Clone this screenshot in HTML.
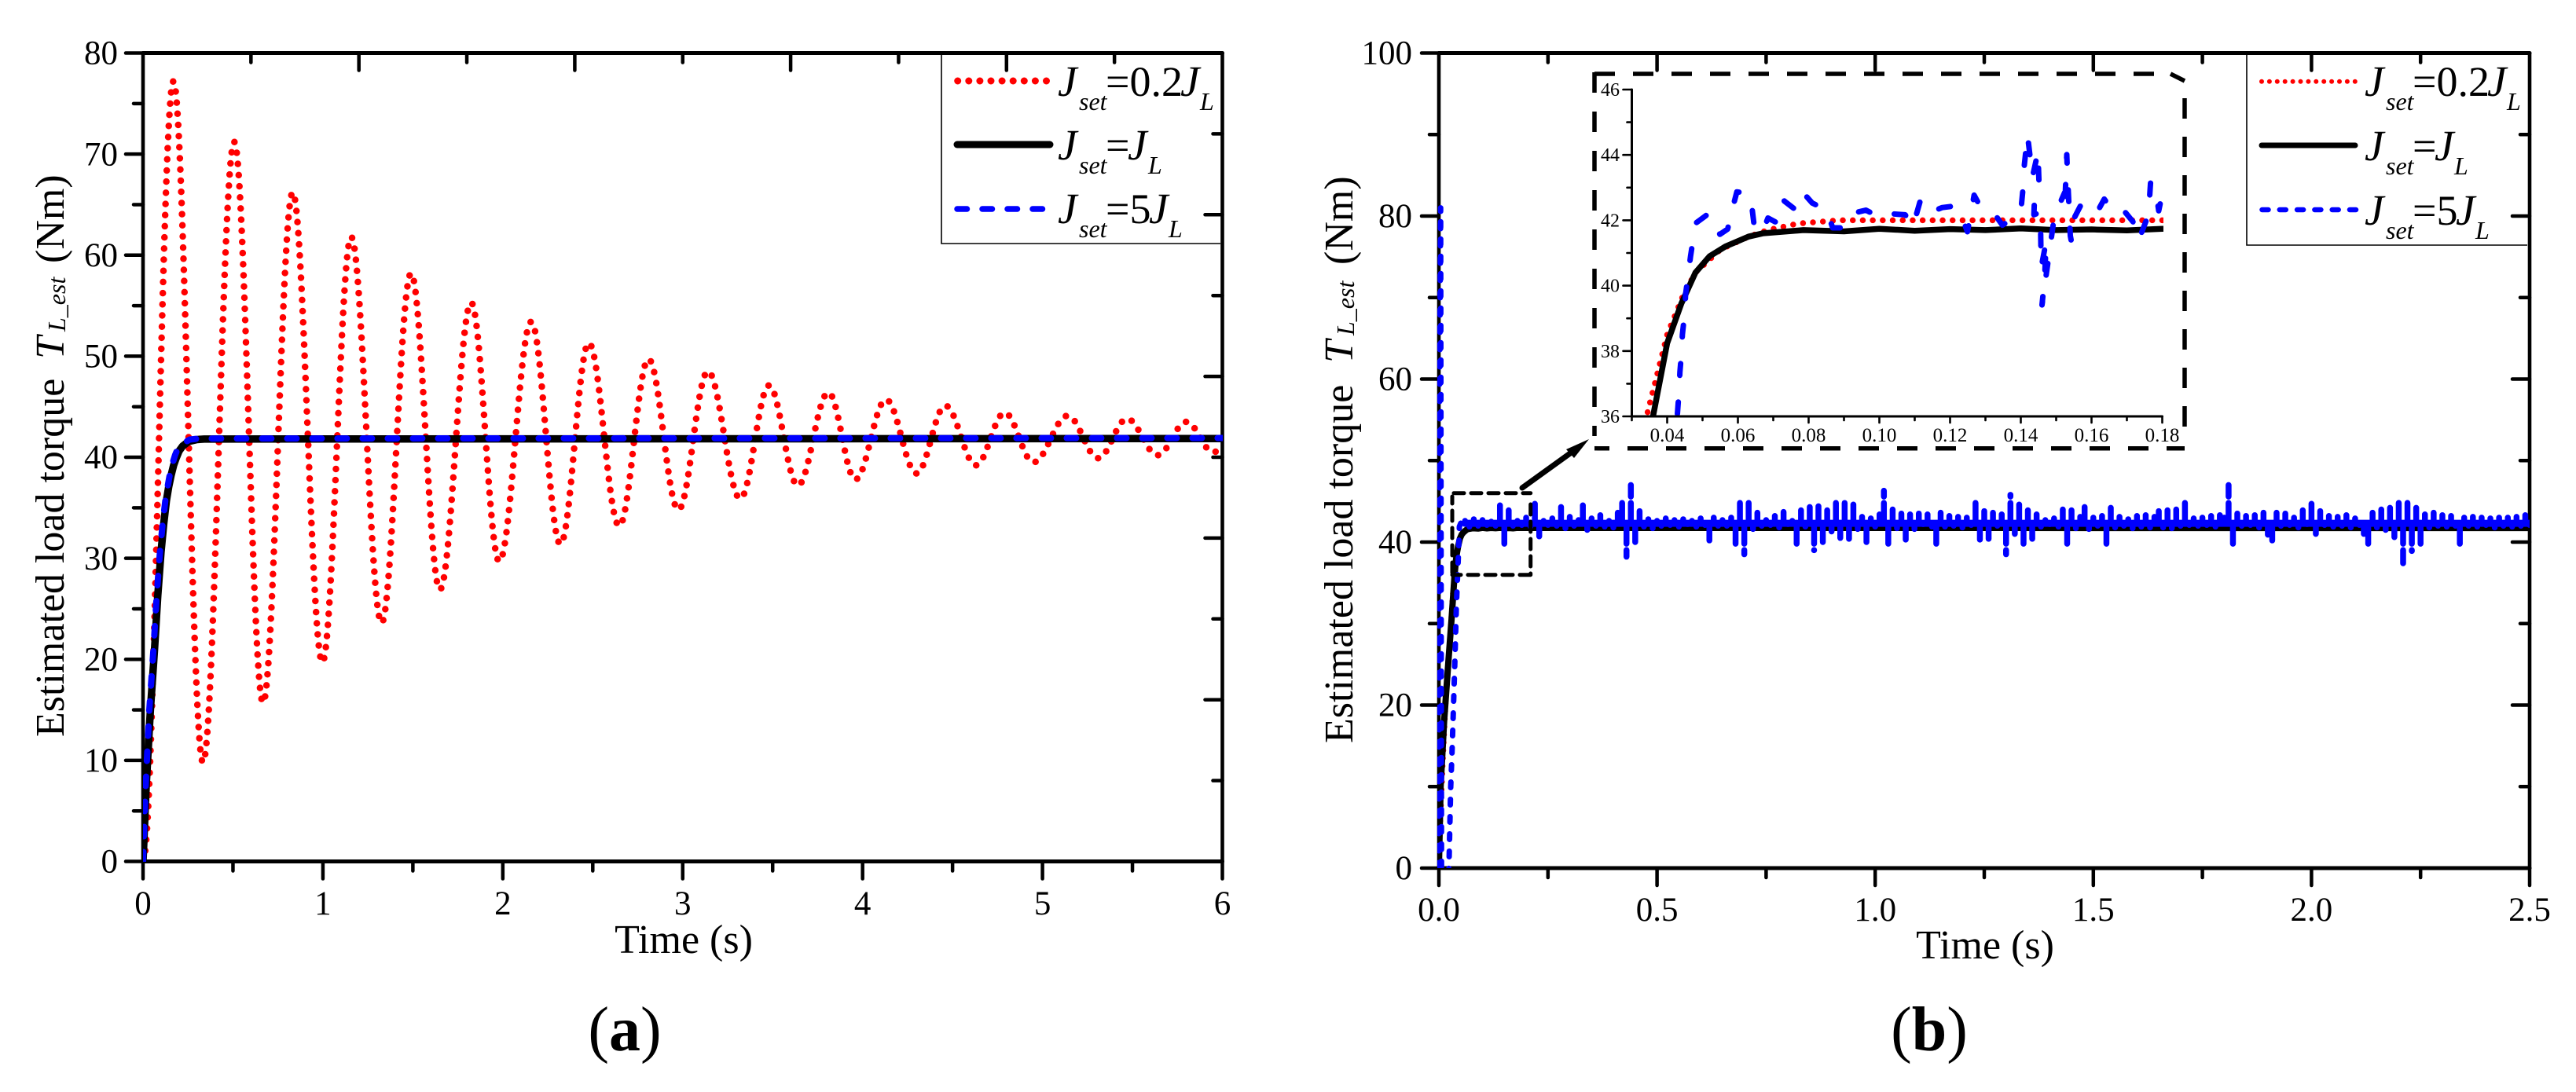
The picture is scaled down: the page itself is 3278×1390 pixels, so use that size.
<!DOCTYPE html>
<html lang="en">
<head>
<meta charset="utf-8">
<title>Estimated load torque</title>
<style>
html,body{margin:0;padding:0;background:#fff;width:3278px;height:1390px;overflow:hidden}
svg{position:absolute;left:0;top:0;display:block;overflow:hidden}
text{font-family:"Liberation Serif","Times New Roman",serif;fill:#000}
</style>
</head>
<body>
<svg id="fig" xmlns="http://www.w3.org/2000/svg" width="3278" height="1390" viewBox="0 0 3278 1390">
<defs>
<clipPath id="clipA"><rect x="182" y="67" width="1374" height="1030"/></clipPath>
<clipPath id="clipB"><rect x="1829" y="67" width="1390" height="1038"/></clipPath>
<clipPath id="clipI"><rect x="2077" y="114" width="676" height="416"/></clipPath>
</defs>

<g id="plotA"></g>
<g id="plotB"></g>
<g id="plotI"></g>

<g>
<text transform="translate(81,938) rotate(-90)" font-size="52">Estimated load torque</text>
<text transform="translate(81,457) rotate(-90)" font-size="52" font-style="italic">T</text>
<text transform="translate(83,422) rotate(-90)" font-size="32" font-style="italic">L_est</text>
<text transform="translate(81,335) rotate(-90)" font-size="52">(Nm)</text>
</g>
<g>
<text transform="translate(1721,946) rotate(-90)" font-size="52">Estimated load torque</text>
<text transform="translate(1721,462) rotate(-90)" font-size="52" font-style="italic">T</text>
<text transform="translate(1723,427) rotate(-90)" font-size="32" font-style="italic">L_est</text>
<text transform="translate(1721,337) rotate(-90)" font-size="52">(Nm)</text>
</g>
<text x="870" y="1213" font-size="52" text-anchor="middle">Time (s)</text>
<text x="2526" y="1220" font-size="52" text-anchor="middle">Time (s)</text>
<text x="795" y="1337" font-size="80" text-anchor="middle">(<tspan font-weight="bold">a</tspan>)</text>
<text x="2455" y="1337" font-size="80" text-anchor="middle">(<tspan font-weight="bold">b</tspan>)</text>

<g>
<path d="M1198 70V310H1553" fill="none" stroke="#000" stroke-width="1.6"/>
<g>
<path d="M1218.7 103H1331.5" stroke="#ff0000" stroke-width="9" stroke-linecap="round" stroke-dasharray="0 14.1" fill="none"/>
<text x="1346" y="122" font-size="55" font-style="italic">J</text>
<text x="1373" y="140" font-size="32" font-style="italic">set</text>
<text x="1407" y="122" font-size="54">=0.2</text>
<text x="1502" y="122" font-size="55" font-style="italic">J</text>
<text x="1527" y="140" font-size="32" font-style="italic">L</text>
</g>
<g>
<path d="M1218 184H1336" stroke="#000" stroke-width="9" stroke-linecap="round" fill="none"/>
<text x="1346" y="203" font-size="55" font-style="italic">J</text>
<text x="1373" y="221" font-size="32" font-style="italic">set</text>
<text x="1407" y="203" font-size="54">=</text>
<text x="1435" y="203" font-size="55" font-style="italic">J</text>
<text x="1461" y="221" font-size="32" font-style="italic">L</text>
</g>
<g>
<path d="M1218 266H1327" stroke="#0000ff" stroke-width="7.5" stroke-linecap="round" stroke-dasharray="12.5 19.5" fill="none"/>
<text x="1346" y="284" font-size="55" font-style="italic">J</text>
<text x="1373" y="302" font-size="32" font-style="italic">set</text>
<text x="1407" y="284" font-size="54">=5</text>
<text x="1462" y="284" font-size="55" font-style="italic">J</text>
<text x="1487" y="302" font-size="32" font-style="italic">L</text>
</g>
</g>

<g>
<path d="M2859 70V312H3216" fill="none" stroke="#000" stroke-width="1.6"/>
<g>
<path d="M2878 103.7H2997" stroke="#ff0000" stroke-width="6" stroke-linecap="round" stroke-dasharray="0 9.9" fill="none"/>
<text x="3009" y="122" font-size="55" font-style="italic">J</text>
<text x="3036" y="140" font-size="32" font-style="italic">set</text>
<text x="3070" y="122" font-size="54">=0.2</text>
<text x="3165" y="122" font-size="55" font-style="italic">J</text>
<text x="3190" y="140" font-size="32" font-style="italic">L</text>
</g>
<g>
<path d="M2878 185H2997" stroke="#000" stroke-width="7" stroke-linecap="round" fill="none"/>
<text x="3009" y="204" font-size="55" font-style="italic">J</text>
<text x="3036" y="222" font-size="32" font-style="italic">set</text>
<text x="3070" y="204" font-size="54">=</text>
<text x="3098" y="204" font-size="55" font-style="italic">J</text>
<text x="3123" y="222" font-size="32" font-style="italic">L</text>
</g>
<g>
<path d="M2878.5 267H2998" stroke="#0000ff" stroke-width="6.5" stroke-linecap="round" stroke-dasharray="8 14.3" fill="none"/>
<text x="3009" y="286" font-size="55" font-style="italic">J</text>
<text x="3036" y="304" font-size="32" font-style="italic">set</text>
<text x="3070" y="286" font-size="54">=5</text>
<text x="3125" y="286" font-size="55" font-style="italic">J</text>
<text x="3150" y="304" font-size="32" font-style="italic">L</text>
</g>
</g>

<g>
<g fill="none" stroke="#000" stroke-width="5" stroke-linecap="round">
<path d="M1850 627.7H1947.7" stroke-dasharray="13 9"/>
<path d="M1947.7 642V731.7" stroke-dasharray="13 9"/>
<path d="M1947 731.7H1848" stroke-dasharray="13 9"/>
<path d="M1848 729V632" stroke-dasharray="13 9"/>
</g>
<path d="M1937 621L2005 572" fill="none" stroke="#000" stroke-width="7" stroke-linecap="round"/>
<polygon points="2022,559 1993,572 2003,583" fill="#000"/>
<g fill="none" stroke="#000" stroke-width="5.5">
<path d="M2029 94H2762" stroke-dasharray="26 23"/>
<path d="M2762 94L2780 103"/>
<path d="M2780 125V550" stroke-dasharray="26 23"/>
<path d="M2780 570.7H2029" stroke-dasharray="26 23" stroke-dashoffset="3"/>
<path d="M2029 92V555" stroke-dasharray="26 24"/>
</g>
</g>
</svg>

<script>
/* ---------- panel (a) data ---------- */
const aRedTime = [0,0.169,0.333,0.507,0.667,0.832,0.997,1.157,1.326,1.49,1.65,1.824,1.98,2.158,2.32,2.478,2.647,2.81,2.976,3.14,3.32,3.48,3.64,3.81,3.96,4.13,4.30,4.46,4.63,4.79,4.95,5.14,5.31,5.47,5.64,5.80,5.95,6];
const aRedTorque = [0,77.2,9.8,71.2,15.7,66.2,19.7,61.8,23.6,58.2,26.9,55.3,29.7,53.4,31.4,51.3,33.2,49.7,34.8,48.5,35.9,47.1,37.2,46.4,37.8,45.7,38.4,45.1,39.2,44.4,39.5,44.1,39.9,43.8,40.2,43.5,40.5,40.8];
const aBlackTime = [0,0.018,0.041,0.064,0.082,0.1,0.115,0.13,0.143,0.156,0.17,0.184,0.2,0.22,0.253,0.3,0.34,6];
const aBlackTorque = [0,7.6,15,21,26.3,30.6,33.4,35.7,37.1,38.2,39.2,39.9,40.6,41.1,41.55,41.75,41.8,41.85];
const aBlueTime = [0,0.015,0.035,0.058,0.076,0.094,0.109,0.124,0.137,0.148,0.164,0.178,0.194,0.215,0.26,0.31,6];
const aBlueTorque = [0,7.6,15,21,26.3,30.6,33.4,35.7,37.1,38.2,39.4,40.2,40.9,41.3,41.75,41.85,41.9];
const aYLabels = ['0','10','20','30','40','50','60','70','80'];
const aYValues = [0,10,20,30,40,50,60,70,80];
const aYMinor = [5,15,25,35,45,55,65,75];
const aXLabels = ['0','1','2','3','4','5','6'];
const aXValues = [0,1,2,3,4,5,6];
const aXMinor = [0.5,1.5,2.5,3.5,4.5,5.5];
const aTopMajor = [1.2,2.4,3.6,4.8];
const aTopMinor = [0.6,1.8,3.0,4.2,5.4];
const aRightMajor = [16,32,48,64];
const aRightMinor = [8,24,40,56,72];

/* ---------- panel (b) data ---------- */
const bRedTime = [0,0.01,0.02,0.03,0.0344,0.04,0.0445,0.048,0.055,0.063,0.0685,0.077,0.0885,2.5];
const bRedTorque = [0,13,24,33,36.1,38.5,39.7,40.4,41.1,41.5,41.7,41.9,42,42];
const bBlackTime = [0,0.004,0.012,0.022,0.029,0.036,0.04,0.044,0.048,0.052,0.0565,0.063,0.067,0.0785,0.09,0.10,0.11,0.12,0.13,0.14,0.15,0.16,0.17,0.18,2.5];
const bBlackTorque = [0,10,18,25.5,30.5,36,38.24,39.45,40.4,40.9,41.2,41.5,41.6,41.7,41.66,41.74,41.68,41.73,41.7,41.75,41.7,41.72,41.69,41.74,41.72];
const bBlueRiseTime = [0,0.002,0.004,0.006,0.012,0.019,0.023,0.027,0.03,0.033,0.037,0.04,0.0429,0.045,0.047,0.05,0.06];
const bBlueRiseTorque = [0,60,81,0,-2,-1,0,9.8,14,19,26,32,36,38.7,41.9,42.3,42.6];
const bBlueBandTime = [0.06,2.5];
const bBlueBandTorque = [42.3,42.3];
const bNoiseStart = 0.06;
const bNoiseStep = 0.01;
const bNoiseTorque = [
42.6,41.9,42.8,42.0,42.7,42.1,42.5,42.0,44.5,39.2,
43.9,42.0,42.6,42.1,43.0,41.9,44.7,40.7,42.6,42.1,
42.9,42.0,44.3,41.7,43.1,42.0,42.7,44.5,41.5,42.9,
42.0,43.3,41.9,42.6,41.8,43.6,45.3,38.2,47.0,40.0,
43.8,41.9,42.8,41.7,42.6,42.0,42.9,42.1,42.7,41.9,
42.8,42.2,42.6,41.9,42.9,42.1,40.2,43.0,42.0,42.7,
42.0,43.0,39.7,45.3,38.5,45.1,41.6,43.6,42.0,42.7,
42.1,43.2,41.8,43.7,42.2,42.6,39.3,43.9,41.9,44.3,
39.0,44.4,40.0,43.9,41.3,45.1,40.5,44.8,40.4,44.6,
41.6,43.1,40.0,42.9,41.9,43.4,46.3,39.4,44.0,41.7,
43.5,40.3,43.4,41.6,43.5,42.2,43.4,41.9,39.4,43.6,
41.9,43.2,42.0,43.1,41.8,43.0,42.1,45.3,40.3,43.8,
40.4,43.6,42.0,43.4,38.5,45.8,41.0,44.6,39.5,43.9,
40.4,43.4,41.9,42.7,42.2,42.9,41.9,44.0,39.8,43.9,
41.7,43.1,44.3,41.6,43.0,42.0,43.2,39.6,44.2,41.8,
43.1,42.0,42.8,41.7,43.2,41.9,43.3,41.8,43.1,43.8,
41.8,43.9,41.7,44.0,42.0,44.9,42.1,42.9,42.0,43.0,
42.1,43.2,41.9,43.3,43.0,47.0,39.2,43.5,42.0,43.2,
42.1,43.3,41.8,43.6,40.9,40.2,43.6,42.0,43.5,42.1,
43.0,41.8,43.9,42.2,44.7,41.0,43.8,42.1,43.2,41.9,
43.1,42.0,43.3,41.8,42.9,42.1,41.0,39.4,43.6,41.8,
44.0,41.5,44.2,40.6,45.5,37.4,45.3,38.9,44.2,39.4,
43.4,41.8,43.6,42.0,43.3,41.9,43.2,42.0,39.8,43.0,
42.0,43.1,41.9,43.0,42.1,42.9,41.8,43.0,42.0,43.0,
41.9,43.1,42.0,43.3,42.1];
const bYLabels = ['0','20','40','60','80','100'];
const bYValues = [0,20,40,60,80,100];
const bYMinor = [10,30,50,70,90];
const bXLabels = ['0.0','0.5','1.0','1.5','2.0','2.5'];
const bXValues = [0,0.5,1,1.5,2,2.5];
const bXMinor = [0.25,0.75,1.25,1.75,2.25];

/* ---------- inset data ---------- */
const iBlueTime = [0.0429,0.0434,0.0436,0.0441,0.0443,0.045,0.0452,0.046,0.0466,0.0475,0.0483,0.0518,0.0549,0.0571,0.0585,0.0597,0.0626,0.0638,0.0645,0.0668,0.0685,0.0713,0.073,0.0762,0.0784,0.081,0.0851,0.0868,0.0898,0.0923,0.0962,0.098,0.1008,0.103,0.1073,0.1095,0.1115,0.1136,0.1178,0.1208,0.1231,0.1249,0.1257,0.1268,0.1285,0.1322,0.1348,0.1376,0.1402,0.1408,0.141,0.1419,0.1433,0.1449,0.1450,0.1452,0.1439,0.1437,0.1456,0.1456,0.1457,0.1458,0.1472,0.1467,0.146,0.1495,0.1524,0.1524,0.153,0.1532,0.1535,0.154,0.1543,0.1552,0.1571,0.1614,0.1636,0.1657,0.1686,0.1722,0.1734,0.1754,0.1763,0.1767,0.1782,0.179,0.18];
const iBlueTorque = [36.08,36.84,37.35,38.0,38.5,39.2,39.73,40.37,40.89,41.53,41.93,42.21,41.57,41.73,42.37,42.87,42.83,42.55,41.93,41.6,42.07,41.91,42.6,42.33,42.85,42.53,42.31,41.77,41.77,42.21,42.31,42.21,42.33,42.2,42.17,41.81,42.57,42.21,42.39,42.43,42.17,41.65,42.09,42.77,42.43,42.25,41.85,42.05,42.49,43.17,43.69,44.61,43.33,44.11,43.61,42.97,42.73,42.17,42.25,41.73,41.05,40.57,41.37,40.17,39.41,42.13,42.85,42.33,44.01,43.41,42.73,41.53,41.35,42.09,42.49,42.21,42.65,42.33,42.37,41.89,41.41,41.97,42.49,43.17,42.89,42.29,42.81];
const iYLabels = ['36','38','40','42','44','46'];
const iYValues = [36,38,40,42,44,46];
const iYMinor = [37,39,41,43,45];
const iXLabels = ['0.04','0.06','0.08','0.10','0.12','0.14','0.16','0.18'];
const iXValues = [0.04,0.06,0.08,0.10,0.12,0.14,0.16,0.18];
const iXMinor = [0.03,0.05,0.07,0.09,0.11,0.13,0.15,0.17];

/* ---------- axis functions ---------- */
function scale(d0, d1, r0, r1) { return function (v) { return r0 + (v - d0) * (r1 - r0) / (d1 - d0); }; }
const xA = scale(0, 6, 182, 1555.5);
const yA = scale(0, 80, 1096.5, 67.5);
const xB = scale(0, 2.5, 1831, 3219);
const yB = scale(0, 100, 1105, 67.5);
const xI = scale(0.03, 0.18, 2076.5, 2751.5);
const yI = scale(36, 46, 530, 114);

const NS = 'http://www.w3.org/2000/svg';
function mk(tag, parent, name, interactable) {
  const el = document.createElementNS(NS, tag);
  
  
  parent.appendChild(el);
  return el;
}
function seg(parent, name, x1, y1, x2, y2, w) {
  const l = mk('line', parent, name, 'false');
  l.setAttribute('x1', x1); l.setAttribute('y1', y1);
  l.setAttribute('x2', x2); l.setAttribute('y2', y2);
  l.setAttribute('stroke', '#000');
  l.setAttribute('stroke-width', w);
  l.setAttribute('stroke-linecap', 'round');
  return l;
}
function label(parent, name, x, y, str, size, anchor) {
  const t = mk('text', parent, name, 'false');
  t.setAttribute('x', x); t.setAttribute('y', y);
  t.setAttribute('font-size', size);
  t.setAttribute('text-anchor', anchor);
  t.textContent = str;
  return t;
}
function linePath(ts, vs, x, y) {
  let d = '';
  for (let i = 0; i < ts.length; i++) d += (i ? 'L' : 'M') + x(ts[i]).toFixed(2) + ' ' + y(vs[i]).toFixed(2);
  return d;
}
/* one vertical stroke per sample, rising or falling from the steady level */
function barPath(ts, vs, base, x, y) {
  let d = '';
  for (let i = 0; i < ts.length; i++) d += 'M' + x(ts[i]).toFixed(2) + ' ' + y(base).toFixed(2) + 'V' + y(vs[i]).toFixed(2);
  return d;
}
/* extremes joined by horizontal-tangent cubic arcs */
function wavePath(ts, vs, x, y) {
  let d = 'M' + x(ts[0]).toFixed(2) + ' ' + y(vs[0]).toFixed(2);
  for (let i = 1; i < ts.length; i++) {
    const x0 = x(ts[i - 1]), x1 = x(ts[i]), c = (x1 - x0) * 0.3642;
    d += 'C' + (x0 + c).toFixed(2) + ' ' + y(vs[i - 1]).toFixed(2) + ' ' + (x1 - c).toFixed(2) + ' ' + y(vs[i]).toFixed(2) + ' ' + x1.toFixed(2) + ' ' + y(vs[i]).toFixed(2);
  }
  return d;
}
function series(parent, name, d, color, w, dash, clip) {
  const p = mk('path', parent, name, 'false');
  p.setAttribute('d', d);
  p.setAttribute('fill', 'none');
  p.setAttribute('stroke', color);
  p.setAttribute('stroke-width', w);
  p.setAttribute('stroke-linecap', 'round');
  p.setAttribute('stroke-linejoin', 'round');
  if (dash) p.setAttribute('stroke-dasharray', dash);
  p.setAttribute('clip-path', 'url(#' + clip + ')');
  return p;
}
function frame(g, prefix, x, y, xVals, xLabs, xMin, yVals, yLabs, yMin, topMaj, topMin, rightMaj, rightMin, xLabY, yLabX, xMax, yMax, size) {
  const L = x(xVals[0]), R = x(xMax), B = y(yVals[0]), T = y(yMax);
  const MAJ = 22, MIN = 12, W = 4.5;
  xVals.forEach(function (v, i) {
    seg(g, prefix + '-x-tick', x(v), B, x(v), B + MAJ, W);
    label(g, prefix + '-x-tick-label', x(v), xLabY, xLabs[i], size, 'middle');
  });
  xMin.forEach(function (v) { seg(g, prefix + '-x-minor-tick', x(v), B, x(v), B + MIN, W); });
  yVals.forEach(function (v, i) {
    seg(g, prefix + '-y-tick', L, y(v), L - MAJ, y(v), W);
    label(g, prefix + '-y-tick-label', yLabX, y(v) + size * 0.33, yLabs[i], size, 'end');
  });
  yMin.forEach(function (v) { seg(g, prefix + '-y-minor-tick', L, y(v), L - MIN, y(v), W); });
  topMaj.forEach(function (v) { seg(g, prefix + '-top-tick', x(v), T, x(v), T + MAJ, W); });
  topMin.forEach(function (v) { seg(g, prefix + '-top-minor-tick', x(v), T, x(v), T + MIN, W); });
  rightMaj.forEach(function (v) { seg(g, prefix + '-right-tick', R, y(v), R - MAJ, y(v), W); });
  rightMin.forEach(function (v) { seg(g, prefix + '-right-minor-tick', R, y(v), R - MIN, y(v), W); });
  seg(g, prefix + '-axis-left', L, T, L, B, 4.6);
  seg(g, prefix + '-axis-right', R, T, R, B, 4.6);
  seg(g, prefix + '-axis-top', L, T, R, T, 5);
  seg(g, prefix + '-axis-bottom', L, B, R, B, 5);
}

/* ---------- panel (a) ---------- */
const gA = document.getElementById('plotA');
frame(gA, 'panel-a', xA, yA, aXValues, aXLabels, aXMinor, aYValues, aYLabels, aYMinor, aTopMajor, aTopMinor, aRightMajor, aRightMinor, 1164, 150, 6, 80, 43);
series(gA, 'series-a-jset-0-2', wavePath(aRedTime, aRedTorque, xA, yA), '#ff0000', 8.5, '0 14.2', 'clipA');
series(gA, 'series-a-jset-1', linePath(aBlackTime, aBlackTorque, xA, yA), '#000', 9.5, null, 'clipA');
series(gA, 'series-a-jset-5', linePath(aBlueTime, aBlueTorque, xA, yA), '#0000ff', 8, '12 20', 'clipA');

/* ---------- panel (b) ---------- */
const gB = document.getElementById('plotB');
frame(gB, 'panel-b', xB, yB, bXValues, bXLabels, bXMinor, bYValues, bYLabels, bYMinor, bXValues.slice(1, 5), bXMinor, bYValues.slice(1, 5), bYMinor, 1172, 1797, 2.5, 100, 43);
const bNoiseTime = bNoiseTorque.map(function (_, i) { return bNoiseStart + i * bNoiseStep; });
series(gB, 'series-b-jset-0-2', linePath(bRedTime, bRedTorque, xB, yB), '#ff0000', 6, '0 10', 'clipB');
series(gB, 'series-b-jset-1', linePath(bBlackTime, bBlackTorque, xB, yB), '#000', 8, null, 'clipB');
series(gB, 'series-b-jset-5-rise', linePath(bBlueRiseTime, bBlueRiseTorque, xB, yB), '#0000ff', 7, '7 15', 'clipB');
series(gB, 'series-b-jset-5-band', linePath(bBlueBandTime, bBlueBandTorque, xB, yB), '#0000ff', 9, null, 'clipB');
series(gB, 'series-b-jset-5-steady', barPath(bNoiseTime, bNoiseTorque, bBlueBandTorque[0], xB, yB), '#0000ff', 7.5, '26 8', 'clipB');

/* ---------- inset ---------- */
const gI = document.getElementById('plotI');
series(gI, 'inset-jset-0-2', linePath(bRedTime, bRedTorque, xI, yI), '#ff0000', 7.5, '0 12.7', 'clipI');
series(gI, 'inset-jset-1', linePath(bBlackTime, bBlackTorque, xI, yI), '#000', 7.5, null, 'clipI');
series(gI, 'inset-jset-5', linePath(iBlueTime, iBlueTorque, xI, yI), '#0000ff', 7, '15 34', 'clipI');
const iL = xI(0.03), iB = yI(36);
iYValues.forEach(function (v, i) {
  seg(gI, 'inset-y-tick', iL, yI(v), iL - 11, yI(v), 2.6);
  label(gI, 'inset-y-tick-label', 2061, yI(v) + 8, iYLabels[i], 24, 'end');
});
iYMinor.forEach(function (v) { seg(gI, 'inset-y-minor-tick', iL, yI(v), iL - 6, yI(v), 2.6); });
iXValues.forEach(function (v, i) {
  seg(gI, 'inset-x-tick', xI(v), iB, xI(v), iB + 8, 2.6);
  label(gI, 'inset-x-tick-label', xI(v), 562, iXLabels[i], 25, 'middle');
});
iXMinor.forEach(function (v) { seg(gI, 'inset-x-minor-tick', xI(v), iB, xI(v), iB + 5, 2.6); });
seg(gI, 'inset-axis-left', iL, yI(46), iL, iB, 3);
seg(gI, 'inset-axis-bottom', iL, iB, xI(0.18), iB, 3);
</script>
</body>
</html>
